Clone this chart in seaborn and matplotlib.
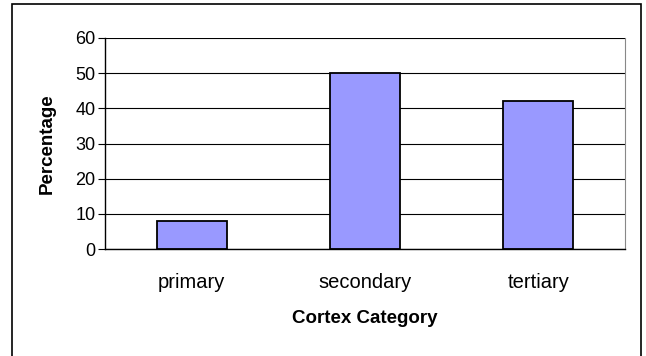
import matplotlib
matplotlib.use("Agg")
import matplotlib.pyplot as plt
import seaborn as sns
import pandas as pd
from matplotlib.patches import Rectangle

sns.set_style("white")
plt.rcParams["font.family"] = ["Liberation Sans", "DejaVu Sans"]
plt.rcParams["text.color"] = "black"
plt.rcParams["axes.labelcolor"] = "black"
plt.rcParams["xtick.color"] = "black"
plt.rcParams["ytick.color"] = "black"

categories = ["primary", "secondary", "tertiary"]
percentages = [8, 50, 42]

df = pd.DataFrame({"Cortex Category": categories, "Percentage": percentages})

fig = plt.figure(figsize=(6.46, 3.56), dpi=100)
ax = fig.add_axes([105 / 646, 1 - 249 / 356, 520 / 646, 211 / 356])

# outer chart border (Excel style)
fig.patches.append(Rectangle((12 / 646, -0.1), 629 / 646, 1.1 - 4 / 356,
                             transform=fig.transFigure, fill=False,
                             edgecolor="black", linewidth=1.2))

sns.barplot(data=df, x="Cortex Category", y="Percentage", color="#9999FF",
            saturation=1, width=0.404, edgecolor="black", linewidth=1.3, ax=ax)

ax.set_ylim(0, 60)
ax.set_xlim(-0.5, 2.5)
ax.set_yticks(range(0, 61, 10))
ax.yaxis.grid(True, color="black", linewidth=0.8)
ax.set_axisbelow(True)

ax.spines["top"].set_visible(False)
ax.spines["right"].set_color("#888888")
ax.spines["left"].set_color("black")
ax.spines["bottom"].set_color("black")
ax.spines["left"].set_linewidth(1)
ax.spines["bottom"].set_linewidth(1)

ax.set_xticks([-0.5, 0.5, 1.5, 2.5], minor=True)
ax.tick_params(axis="x", which="major", length=0, pad=17, labelsize=14.5)
ax.tick_params(axis="x", which="minor", length=5, direction="out", color="black")
ax.tick_params(axis="y", length=5, direction="out", color="black", labelsize=13, pad=2,
               left=True)

ax.set_xlabel("Cortex Category", fontsize=13.5, fontweight="bold", labelpad=13)
ax.set_ylabel("Percentage", fontsize=13.5, fontweight="bold", labelpad=14)

fig.savefig("out.png", dpi=100)
